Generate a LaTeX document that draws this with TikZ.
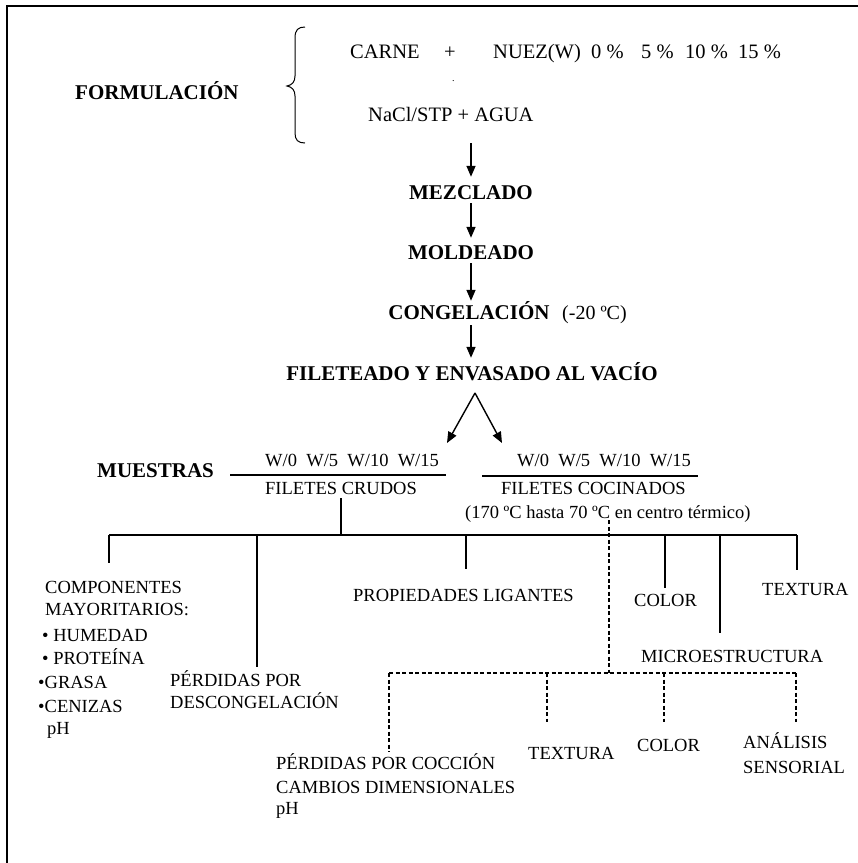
\documentclass[tikz,border=0pt]{standalone}
\usepackage{fontspec}
\setmainfont{Liberation Serif}
\usetikzlibrary{arrows.meta}
\tikzset{
  txt/.style={inner sep=0pt,anchor=base west,font=\fontsize{18.5}{22}\selectfont},
  toptxt/.style={txt,font=\fontsize{20.5}{24}\selectfont},
  btxt/.style={inner sep=0pt,anchor=base,font=\fontsize{21}{24}\selectfont\bfseries,text height=14pt,text depth=0pt},
  link/.style={line width=1.4pt},
  dlink/.style={line width=1.2pt,dash pattern=on 4pt off 2.5pt},
  flow/.style={line width=1.4pt,-{Triangle[length=11pt,width=9pt]}},
}
\begin{document}
\begin{tikzpicture}[x=1pt,y=-1pt]
\useasboundingbox (0,0) rectangle (858,863);
% frame (cut at right and bottom)
\draw[line width=2pt] (7,863) -- (7,6) -- (858,6);

% formulacion
\node[btxt,anchor=base west] (form) at (75,99) {FORMULACIÓN};
\draw[line width=1pt] (305,27) .. controls (298,27) and (295,30) .. (295,38) -- (295,76)
  .. controls (295,82) and (292,85) .. (287,86) .. controls (292,87) and (295,90) .. (295,96)
  -- (295,133) .. controls (295,140) and (298,143) .. (305,143);
\node[toptxt] (carne) at (350,58) {CARNE};
\node[toptxt,anchor=base] (plus) at (450,58) {+};
\node[toptxt] (nuez) at (493,58) {NUEZ(W)};
\node[toptxt] (p0) at (591,58) {0 \%};
\node[toptxt] (p5) at (641,58) {5 \%};
\node[toptxt] (p10) at (685,58) {10 \%};
\node[toptxt] (p15) at (738,58) {15 \%};
\node[txt,font=\fontsize{10}{12}\selectfont] (dot) at (452,81) {.};
\node[toptxt] (nacl) at (368,121) {NaCl/STP + AGUA};

% proceso
\node[btxt] (mezc) at (471,199) {MEZCLADO};
\node[btxt] (mold) at (471,259) {MOLDEADO};
\node[btxt] (cong) at (469,319) {CONGELACIÓN};
\node[txt,font=\fontsize{20}{24}\selectfont] (temp) at (562,319) {(-20 ºC)};
\node[btxt] (filet) at (472,380) {FILETEADO Y ENVASADO AL VACÍO};

\coordinate (a0) at (471,143);
\draw[flow,shorten >=8pt] (a0) -- (a0 |- mezc.north);
\draw[flow,shorten <=4pt,shorten >=7pt] (mezc.south) -- (mold.north);
\draw[flow,shorten <=4pt,shorten >=4pt] (mold.south) -- (mold.south |- cong.north);
\draw[flow,shorten <=6pt,shorten >=8pt] (mold.south |- cong.south) -- (mold.south |- filet.north);

\coordinate (split) at (475,393);
\coordinate (lt) at (447,443);
\coordinate (rt) at (502,443);
\draw[flow] (split) -- (lt);
\draw[flow] (split) -- (rt);

% muestras
\node[btxt,anchor=base west] (muest) at (97,477) {MUESTRAS};
\coordinate (crl) at (230,475);
\coordinate (crr) at (446,475);
\coordinate (col) at (482,476);
\coordinate (cor) at (698,476);
\draw[link] (crl) -- (crr);
\draw[link] (col) -- (cor);
\node[txt] (wcr) at (265,466) {W/0\hspace{0.5em}W/5\hspace{0.5em}W/10\hspace{0.5em}W/15};
\node[txt] (wco) at (517,466) {W/0\hspace{0.5em}W/5\hspace{0.5em}W/10\hspace{0.5em}W/15};
\node[txt] (crudos) at (265,494) {FILETES CRUDOS};
\node[txt] (cocin) at (501,494) {FILETES COCINADOS};
\node[txt] (horno) at (465,518) {(170 ºC hasta 70 ºC en centro térmico)};

% analisis filetes crudos
\coordinate (bar) at (crudos.south |- 0,535);
\coordinate (bl) at (109,535);
\coordinate (br) at (797,535);
\draw[link,shorten <=4pt] (crudos.south) -- (bar);
\draw[link] (bl) -- (br);
\draw[link] (bl) -- ++(0,28);
\draw[link] (257,535) -- ++(0,132);
\draw[link] (466,535) -- ++(0,34);
\draw[link] (665,535) -- ++(0,53);
\draw[link] (720,535) -- ++(0,98);
\draw[link] (br) -- ++(0,35);

\node[txt] (comp1) at (45,593) {COMPONENTES};
\node[txt] (comp2) at (45,615) {MAYORITARIOS:};
\node[txt] (hum) at (42,641) {• HUMEDAD};
\node[txt] (prot) at (42,664) {• PROTEÍNA};
\node[txt] (grasa) at (38,688) {•GRASA};
\node[txt] (ceniz) at (38,712) {•CENIZAS};
\node[txt] (ph1) at (47,734) {pH};
\node[txt] (desc1) at (170,686) {PÉRDIDAS POR};
\node[txt] (desc2) at (170,708) {DESCONGELACIÓN};
\node[txt] (prop) at (353,601) {PROPIEDADES LIGANTES};
\node[txt] (col1) at (634,606) {COLOR};
\node[txt] (micro) at (641,662) {MICROESTRUCTURA};
\node[txt] (text1) at (762,595) {TEXTURA};

% analisis filetes cocinados
\coordinate (dtop) at (609,520);
\coordinate (dmid) at (609,673);
\coordinate (dl) at (389,673);
\coordinate (dr) at (796,673);
\draw[dlink] (dtop) -- (dmid);
\draw[dlink] (dl) -- (dr);
\draw[dlink] (dl) -- ++(0,79);
\draw[dlink] (547,673) -- ++(0,49);
\draw[dlink] (664,673) -- ++(0,49);
\draw[dlink] (dr) -- ++(0,49);

\node[txt] (cocc1) at (276,769) {PÉRDIDAS POR COCCIÓN};
\node[txt] (cocc2) at (276,793) {CAMBIOS DIMENSIONALES};
\node[txt] (ph2) at (276,814) {pH};
\node[txt] (text2) at (528,759) {TEXTURA};
\node[txt] (col2) at (637,751) {COLOR};
\node[txt] (sens1) at (743,748) {ANÁLISIS};
\node[txt] (sens2) at (743,773) {SENSORIAL};
\end{tikzpicture}
\end{document}
